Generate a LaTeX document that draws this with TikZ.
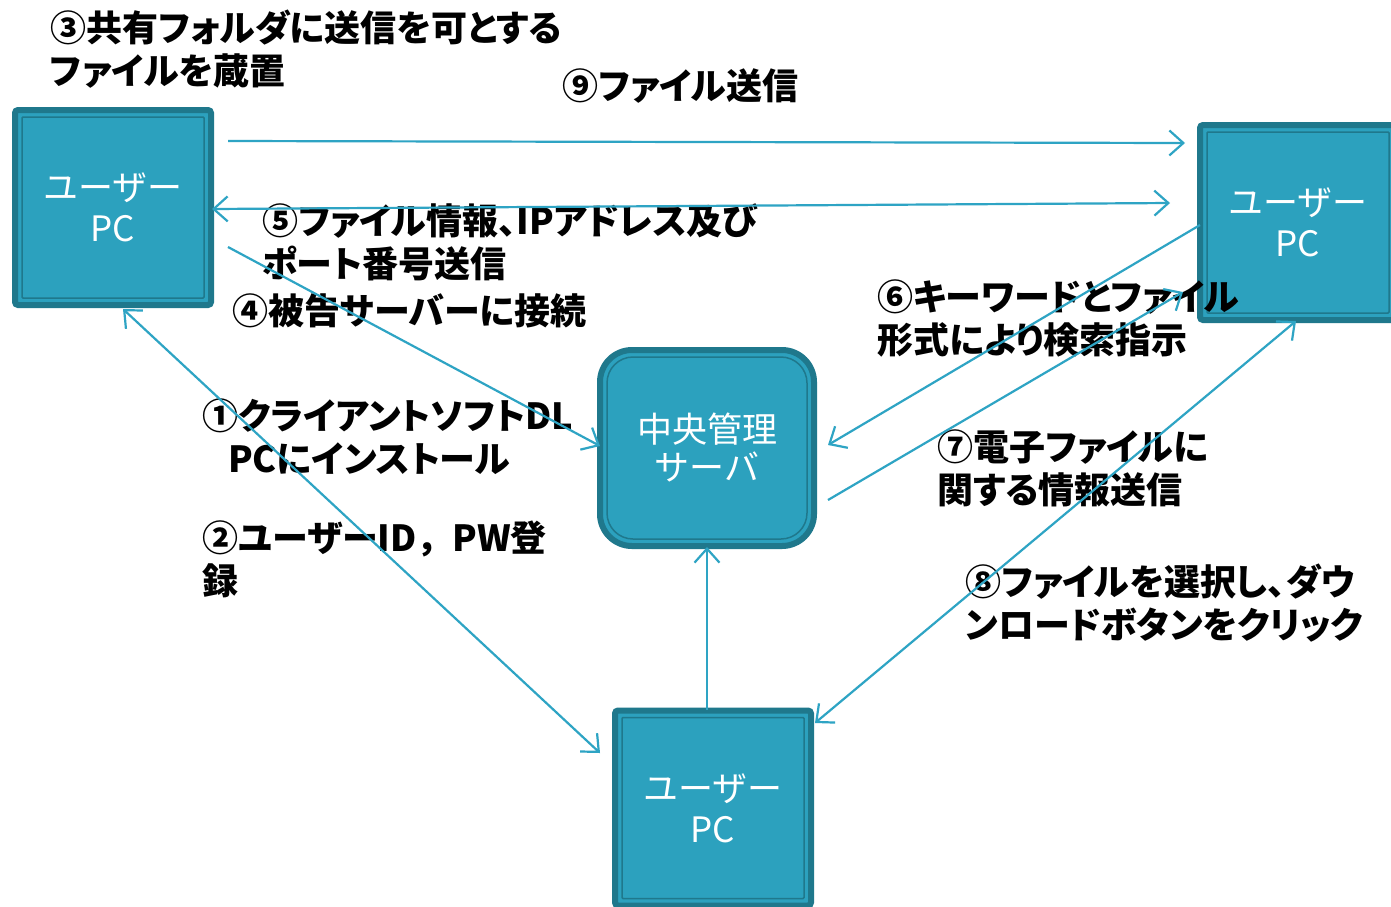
\documentclass[tikz,border=0pt]{standalone}
\usepackage{fontspec}
\newfontfamily\jp{Noto Sans CJK JP}
\newfontfamily\jpp{Noto Sans CJK JP}[RawFeature=+palt]
\newcommand\circnum[1]{{\jp\bfseries #1}}
\usetikzlibrary{arrows.meta}
\definecolor{boxfill}{RGB}{44,161,190}
\definecolor{boxdark}{RGB}{31,120,140}
\definecolor{arrowc}{RGB}{46,164,196}
\tikzset{
  pcbox/.style={draw=boxdark, fill=boxfill, line width=6pt, rounded corners=3pt,
    minimum width=196pt, minimum height=195pt, inner sep=0pt, text=white,
    font=\jp\fontsize{35}{41}\selectfont, align=center,
    path picture={\draw[boxdark,line width=1.5pt,rounded corners=1pt]
      ([shift={(7pt,-7pt)}]path picture bounding box.north west) rectangle
      ([shift={(-7pt,7pt)}]path picture bounding box.south east);}},
  srvbox/.style={draw=boxdark, fill=boxfill, line width=6pt, rounded corners=32pt,
    minimum width=214pt, minimum height=196pt, inner sep=0pt, text=white,
    font=\jp\fontsize{35}{38}\selectfont, align=center,
    path picture={\draw[boxdark,line width=1.5pt,rounded corners=26pt]
      ([shift={(7pt,-7pt)}]path picture bounding box.north west) rectangle
      ([shift={(-7pt,7pt)}]path picture bounding box.south east);}},
  lbl/.style={font=\jpp\bfseries\fontsize{36}{43}\selectfont, align=left,
    anchor=base west, inner sep=0pt, text=black},
  conn/.style={draw=arrowc, line width=2.2pt},
  tipend/.style={-{Straight Barb[length=14pt,width=25pt]}},
  tipboth/.style={{Straight Barb[length=14pt,width=25pt]}-{Straight Barb[length=14pt,width=25pt]}}
}
\begin{document}
\begin{tikzpicture}[x=1pt,y=-1pt]
\useasboundingbox (0,0) rectangle (1391,906);
\clip (0,0) rectangle (1391,906);
\fill[white] (0,0) rectangle (1391,906);

% boxes
\node[pcbox] (L) at (113,207.5) {ユーザー\\PC};
\node[pcbox] (R) at (1298,222.5) {ユーザー\\PC};
\node[pcbox] (B) at (713,808) {ユーザー\\PC};
\node[srvbox] (S) at (707,448) {中央管理\\サーバ};

% labels (base anchor = baseline of the last line)
\node[lbl] (t3) at (50,84) {\circnum{③}共有フォルダに送信を可とする\\ファイルを蔵置};
\node[lbl] (t9) at (562,99) {\circnum{⑨}ファイル送信};
\node[lbl] (t5) at (262,277) {\circnum{⑤}ファイル情報、IPアドレス及び\\ポート番号送信};
\node[lbl] (t4) at (232,324) {\circnum{④}被告サーバーに接続};
\node[lbl] (t6) at (877,353) {\circnum{⑥}キーワードとファイル\\形式により検索指示};
\node[lbl] (t1) at (202,472) {\circnum{①}クライアントソフトDL\\\hspace*{26pt}PCにインストール};
\node[lbl] (t7) at (937,503) {\circnum{⑦}電子ファイルに\\関する情報送信};
\node[lbl] (t2) at (202,594) {\circnum{②}ユーザーID{\jp\bfseries ，}PW登\\録};
\node[lbl] (t8) at (965,638) {\circnum{⑧}ファイルを選択し、ダウ\\ンロードボタンをクリック};

% connector end points
\coordinate (a1) at (228,141);  \coordinate (b1) at (1185,143);
\coordinate (a2) at (212,209);  \coordinate (b2) at (1170,203);
\coordinate (a3) at (228,247);  \coordinate (b3) at (600,446);
\coordinate (a4) at (123,309);  \coordinate (b4) at (600,753);
\coordinate (a5) at (1200,225); \coordinate (b5) at (828,445);
\coordinate (a6) at (828,500);  \coordinate (b6) at (1183,292);
\coordinate (a7) at (1296,321); \coordinate (b7) at (815,723);
\coordinate (a8) at (707,710);  \coordinate (b8) at (707,547);

\draw[conn,tipend] (a1) -- (b1);
\draw[conn,tipboth] (a2) -- (b2);
\draw[conn,tipend] (a3) -- (b3);
\draw[conn,tipboth] (a4) -- (b4);
\draw[conn,tipend] (a5) -- (b5);
\draw[conn,tipend] (a6) -- (b6);
\draw[conn,tipboth] (a7) -- (b7);
\draw[conn,tipend] (a8) -- (b8);
\end{tikzpicture}
\end{document}
